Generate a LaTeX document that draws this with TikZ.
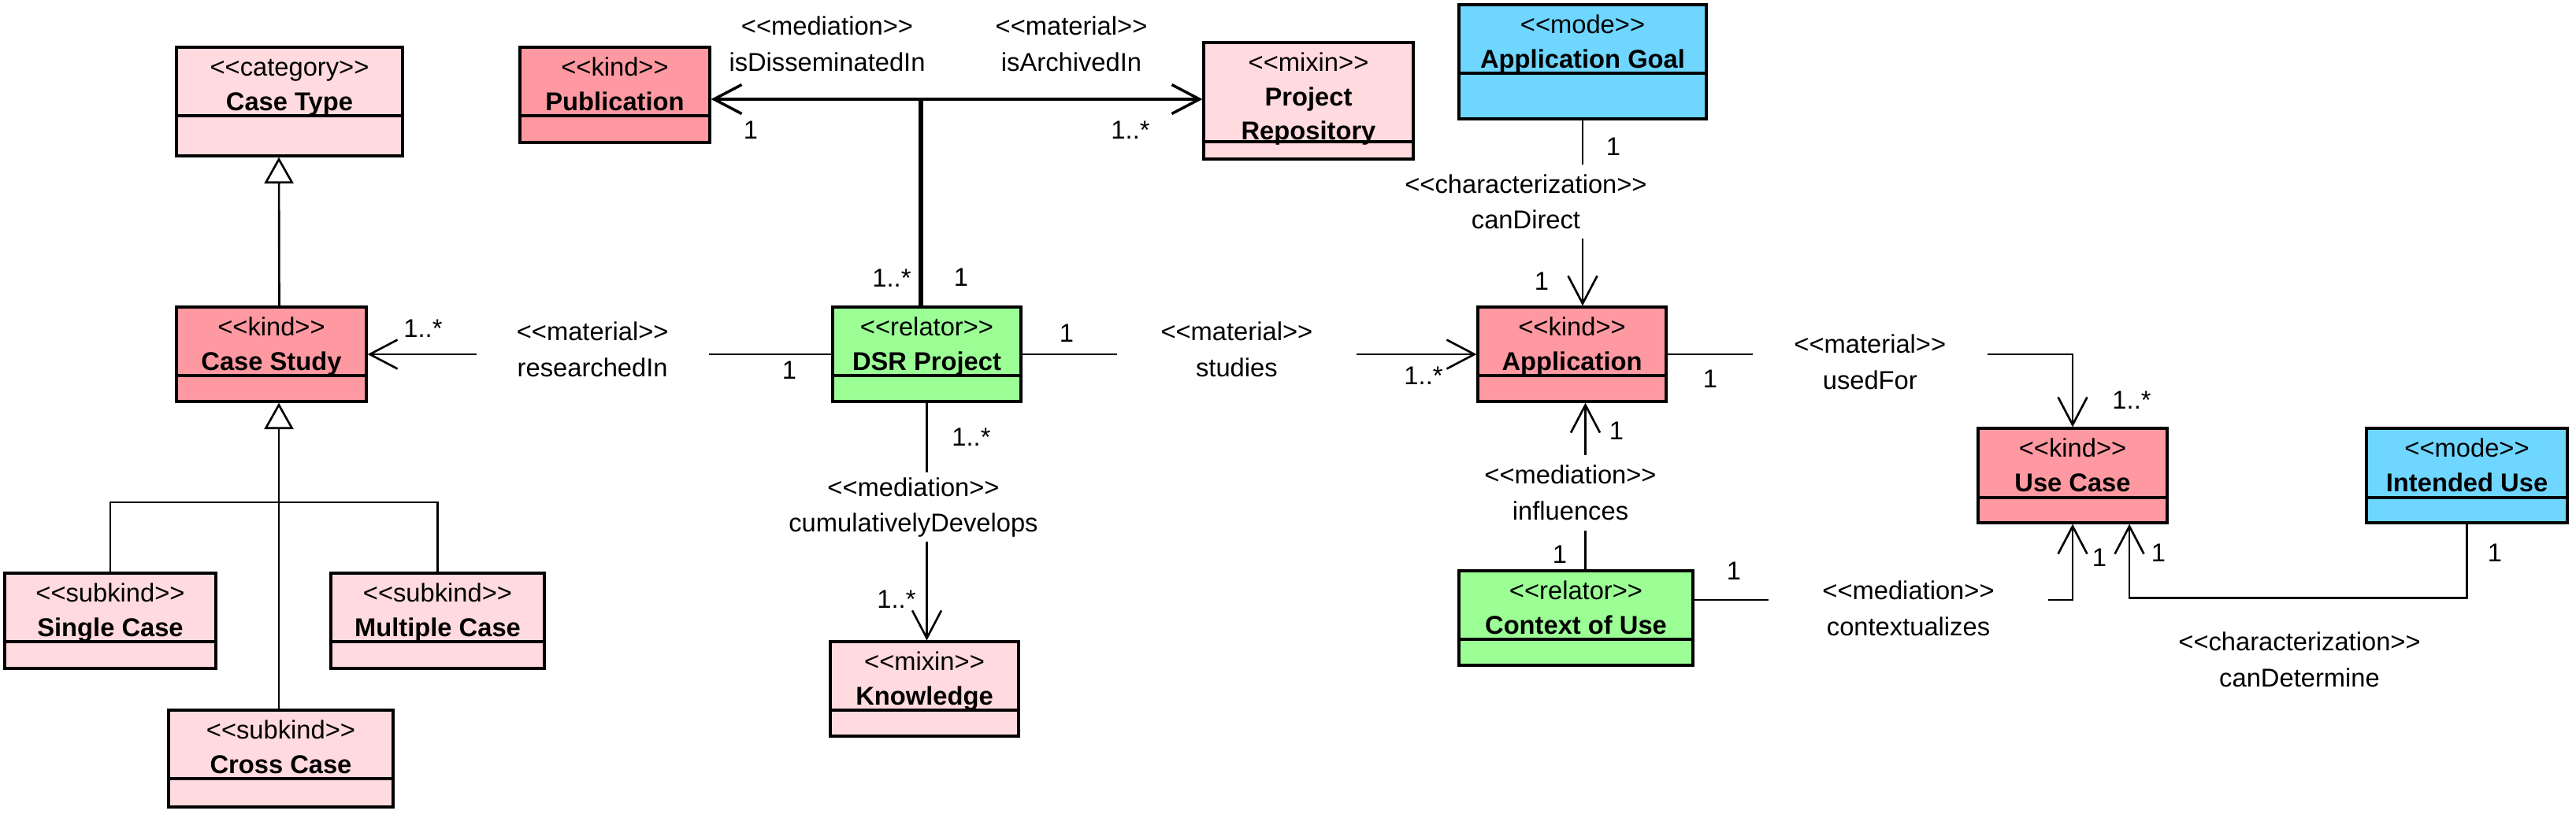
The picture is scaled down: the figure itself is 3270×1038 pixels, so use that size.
\documentclass[tikz,border=0pt]{standalone}
\usepackage{fontspec}
\newfontfamily\umlfont{Liberation Sans}
\usetikzlibrary{arrows.meta}
\usetikzlibrary{fit}

\definecolor{kindpink}{RGB}{255,153,161}
\definecolor{lightpink}{RGB}{255,218,222}
\definecolor{relgreen}{RGB}{155,255,150}
\definecolor{modeblue}{RGB}{110,214,255}

\begin{document}
\begin{tikzpicture}[x=0.01cm, y=-0.01cm,
    classbox/.style={draw, line width=0.9pt, inner sep=0pt},
    classline/.style={line width=0.9pt},
    stereo/.style={font=\umlfont\fontsize{9.3}{13}\selectfont, anchor=base, inner sep=0pt},
    cname/.style={stereo, font=\umlfont\fontsize{9.3}{13}\selectfont\bfseries},
    assoc/.style={line width=0.75pt, -{Straight Barb[length=10pt, width=10.5pt]}},
    plainline/.style={line width=0.75pt},
    gen/.style={line width=0.75pt, -{Triangle[length=9.5pt, width=10.5pt, fill=white]}},
    role/.style={font=\umlfont\fontsize{9.3}{13}\selectfont, align=center, inner sep=0pt},
    gap/.style={role, fill=white},
    mult/.style={font=\umlfont\fontsize{9.3}{13}\selectfont, inner sep=0pt}]

    \useasboundingbox (0,0) rectangle (3270,1038);

    % classes
    \foreach \nm/\col/\xa/\ya/\xb/\yb/\yd/\st/\ti in {
        casetype/lightpink/224/60/511/198/147/category/Case Type,
        publication/kindpink/660/60/901/181/147/kind/Publication,
        repository/lightpink/1528/54/1794/202/180/mixin/Project,
        appgoal/modeblue/1852/6/2166/151/93/mode/Application Goal,
        casestudy/kindpink/224/390/465/510/477/kind/Case Study,
        dsr/relgreen/1057/390/1296/510/477/relator/DSR Project,
        application/kindpink/1876/390/2115/510/477/kind/Application,
        usecase/kindpink/2511/544/2751/664/632/kind/Use Case,
        intendeduse/modeblue/3004/544/3259/664/632/mode/Intended Use,
        singlecase/lightpink/6/728/274/849/815/subkind/Single Case,
        multicase/lightpink/420/728/691/849/815/subkind/Multiple Case,
        crosscase/lightpink/214/902/499/1025/989/subkind/Cross Case,
        knowledge/lightpink/1054/815/1293/935/902/mixin/Knowledge,
        context/relgreen/1852/725/2149/845/812/relator/Context of Use}
    {
        \node[classbox, fill=\col, fit={(\xa,\ya) (\xb,\yb)}] (\nm) {};
        \node[stereo] (\nm-st) at ({(\xa+\xb)/2},\ya+36) {<<\st>>};
        \node[cname] (\nm-nm) at ({(\xa+\xb)/2},\ya+80) {\ti};
        \draw[classline] (\xa,\yd) -- (\xb,\yd);
    }
    \node[cname] (repository-nm2) at (1661,177) {Repository};

    % generalizations
    \draw[gen] ([xshift=0.1cm]casestudy.north) -- ([xshift=-0.135cm]casetype.south);
    \coordinate (gj) at (354,638);
    \draw[gen] (crosscase.north -| gj) -- (casestudy.south -| gj);
    \draw[plainline] (singlecase.north) |- (gj) -| (multicase.north);

    % dsr project to publication and repository
    \coordinate (dj) at (1169,126);
    \draw[line width=1.5pt] (dsr.north -| dj) -- (dj);
    \draw[assoc, line width=1pt] (dj) -- (dj -| publication.east);
    \draw[assoc, line width=1pt] (dj) -- (dj -| repository.west);
    \node[role] (disseminated) at (1050,56) {<<mediation>>\\isDisseminatedIn};
    \node[role] (archived) at (1360,56) {<<material>>\\isArchivedIn};

    % associations
    \draw[assoc] (dsr.west) -- node[gap, pos=0.515, minimum width=2.95cm, yshift=0.06cm] (researched) {<<material>>\\researchedIn} (casestudy.east);
    \draw[assoc] (dsr.east) -- node[gap, pos=0.472, minimum width=3.04cm, yshift=0.06cm] (studies) {<<material>>\\studies} (application.west);
    \draw[assoc] (dsr.south) -- node[gap, pos=0.44, minimum height=0.88cm, xshift=-0.17cm] (develops) {<<mediation>>\\cumulativelyDevelops} (dsr.south |- knowledge.north);
    \draw[assoc] (appgoal.south) -- node[gap, pos=0.44, minimum height=0.94cm, xshift=-0.72cm] (direct) {<<characterization>>\\canDirect} (appgoal.south |- application.north);
    \coordinate (ctop) at ([xshift=0.12cm]context.north);
    \draw[assoc] (ctop) -- node[gap, pos=0.46, minimum height=0.96cm, xshift=-0.19cm] (influences) {<<mediation>>\\influences} (ctop |- application.south);
    \draw[assoc] (application.east) -| node[gap, pos=0.25, minimum width=2.98cm, yshift=-0.1cm] (usedfor) {<<material>>\\usedFor} (usecase.north);
    \coordinate (cxr) at ([yshift=0.23cm]context.east);
    \draw[assoc] (cxr) -| node[gap, pos=0.283, minimum width=3.55cm, yshift=-0.11cm] (contextualizes) {<<mediation>>\\contextualizes} (usecase.south);
    \coordinate (ucr) at ([xshift=0.72cm]usecase.south);
    \draw[assoc] (intendeduse.south) -- ++(0,94) -| (ucr);
    \node[role] (determine) at (2919,838) {<<characterization>>\\canDetermine};

    % multiplicities
    \foreach \txt/\px/\py [count=\i] in {1/953/165, 1..*/1435/165, 1..*/1132/353, 1/1220/352,
        1..*/537/417, 1/1002/470, 1/1354/423, 1..*/1807/477, 1/2048/186, 1/1957/357,
        1..*/1233/555, 1..*/1138/761, 1/2052/547, 1/1980/704, 1/2171/481, 1..*/2706/508,
        1/2201/725, 1/2665/708, 1/2740/702, 1/3167/702}
      \node[mult] (m\i) at (\px,\py) {\txt};

\end{tikzpicture}
\end{document}
